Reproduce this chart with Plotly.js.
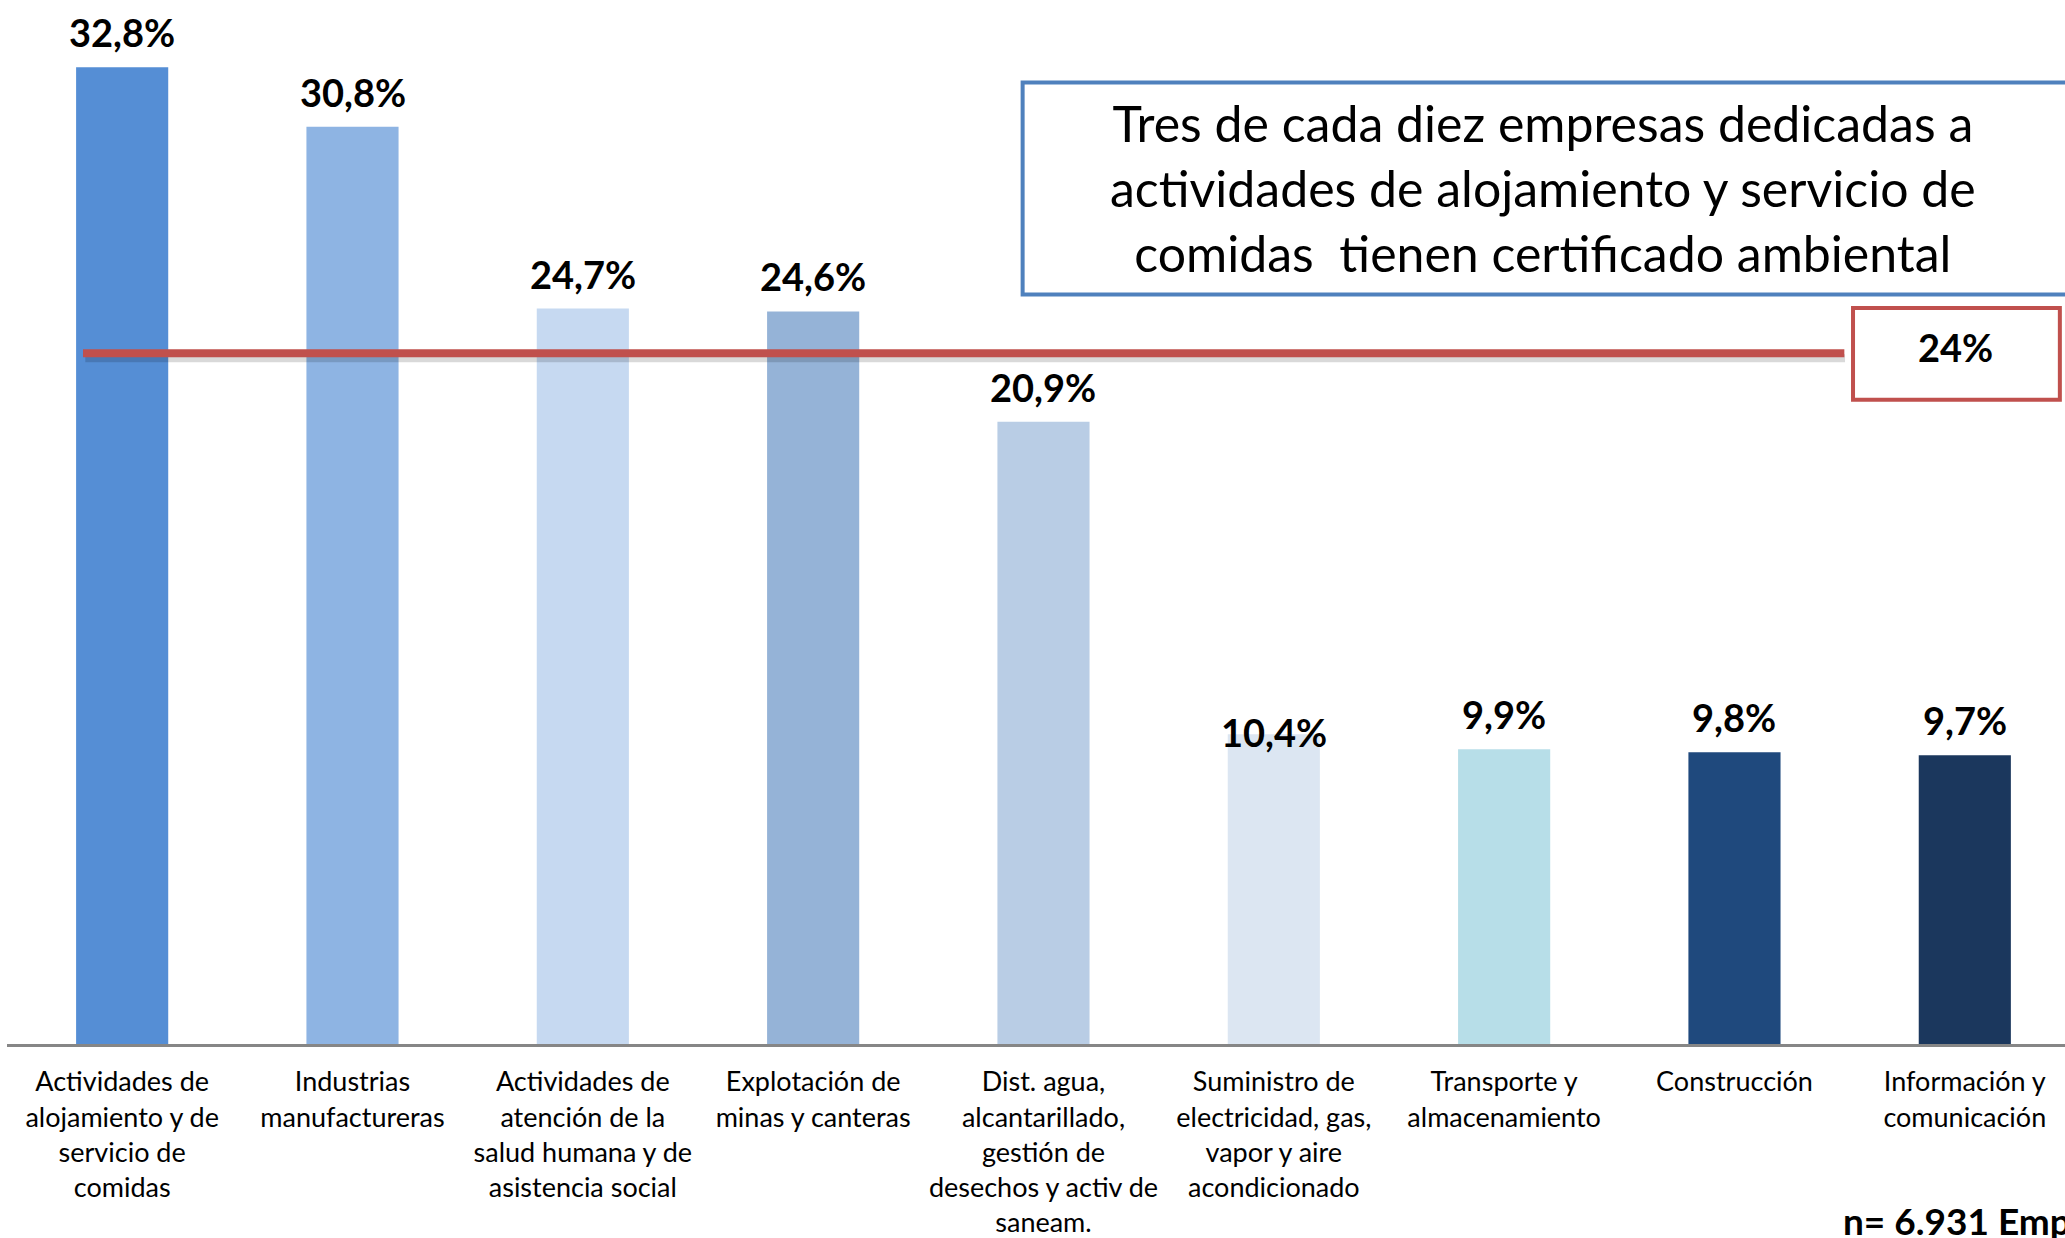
<!DOCTYPE html>
<html>
<head>
<meta charset="utf-8">
<script src="https://cdn.plot.ly/plotly-3.0.1.min.js"></script>
<style>
  html, body { margin: 0; padding: 0; background: #fff; overflow: hidden; }
  #chart { width: 2065px; height: 1238px; }
</style>
</head>
<body>
<div id="chart"></div>
<script>
// sectors, share with environmental certificate (%)
var sectors = [
  "Actividades de<br>alojamiento y de<br>servicio de<br>comidas",
  "Industrias<br>manufactureras",
  "Actividades de<br>atención de la<br>salud humana y de<br>asistencia social",
  "Explotación de<br>minas y canteras",
  "Dist. agua,<br>alcantarillado,<br>gestión de<br>desechos y activ de<br>saneam.",
  "Suministro de<br>electricidad, gas,<br>vapor y aire<br>acondicionado",
  "Transporte y<br>almacenamiento",
  "Construcción",
  "Información y<br>comunicación"
];
var values = [32.8, 30.8, 24.7, 24.6, 20.9, 10.4, 9.9, 9.8, 9.7];
var labels = ["32,8%", "30,8%", "24,7%", "24,6%", "20,9%", "10,4%", "9,9%", "9,8%", "9,7%"];
var colors = ["#558ED5", "#8EB4E3", "#C6D9F1", "#95B3D7", "#B9CDE5", "#DCE6F2", "#B7DEE8", "#1F497D", "#1B375D"];
var avgLine = 23.2;
var avgLabel = "24%";
var boxText = "Tres de cada diez empresas dedicadas a<br>actividades de alojamiento y servicio de<br>comidas  tienen certificado ambiental";
var sampleText = "n= 6.931 Empresas";

var FONT = "Lato, 'Open Sans', sans-serif";
var xs = sectors.map(function (s, i) { return i; });

var bars = {
  type: "bar", x: xs, y: values,
  marker: { color: colors, line: { width: 0 } },
  width: 0.4, hoverinfo: "none", showlegend: false
};

// value labels above bars (the 10,4% one sits on the bar top)
var ann = values.map(function (v, i) {
  return { x: i, y: v, text: "<b>" + labels[i] + "</b>", showarrow: false,
    xanchor: "center", yanchor: "middle",
    yshift: i === 5 ? 2 : 35, font: { family: FONT, size: 38, color: "#000" } };
});
ann.push({ xref: "paper", yref: "paper", x: 0.7465, y: 0.82, xanchor: "center", yanchor: "middle",
  text: boxText, showarrow: false, align: "center", font: { family: FONT, size: 50, color: "#000" } });
ann.push({ xref: "paper", yref: "paper", x: 0.947, y: 0.668, xanchor: "center", yanchor: "middle",
  text: "<b>" + avgLabel + "</b>", showarrow: false, font: { family: FONT, size: 38, color: "#000" } });
ann.push({ xref: "paper", yref: "paper", x: 0.891, y: -0.169, xanchor: "left", yanchor: "middle",
  text: "<b>" + sampleText + "</b>", showarrow: false, font: { family: FONT, size: 37, color: "#000" } });

var shapes = [
  // shadow + average line
  { type: "line", xref: "x", yref: "y", x0: -0.16, x1: 7.48, y0: avgLine - 0.17, y1: avgLine - 0.17,
    line: { color: "rgba(0,0,0,0.15)", width: 8 }, layer: "above" },
  { type: "line", xref: "x", yref: "y", x0: -0.17, x1: 7.477, y0: avgLine, y1: avgLine,
    line: { color: "#C0504D", width: 8 }, layer: "above" },
  // callout box
  { type: "rect", xref: "paper", yref: "paper", x0: 0.4935, x1: 1.02, y0: 0.718, y1: 0.921,
    line: { color: "#4F81BD", width: 4 }, fillcolor: "rgba(255,255,255,1)", layer: "above" },
  // average label box
  { type: "rect", xref: "paper", yref: "paper", x0: 0.897, x1: 0.9975, y0: 0.617, y1: 0.705,
    line: { color: "#C0504D", width: 4 }, fillcolor: "rgba(255,255,255,1)", layer: "above" }
];

Plotly.newPlot("chart", [bars], {
  width: 2065, height: 1238,
  margin: { l: 7, r: 0, t: 0, b: 194 },
  paper_bgcolor: "#fff", plot_bgcolor: "#fff",
  xaxis: { range: [-0.5, 8.435], tickvals: xs, ticktext: sectors, showgrid: false, zeroline: false,
    showline: true, linecolor: "#868686", linewidth: 3, ticks: "", ticklabelstandoff: 12,
    tickfont: { family: FONT, size: 27, color: "#000" }, fixedrange: true },
  yaxis: { range: [0, 35.06], visible: false, showgrid: false, zeroline: false, fixedrange: true },
  annotations: ann, shapes: shapes, showlegend: false
}, { displayModeBar: false, staticPlot: true });
</script>
</body>
</html>
